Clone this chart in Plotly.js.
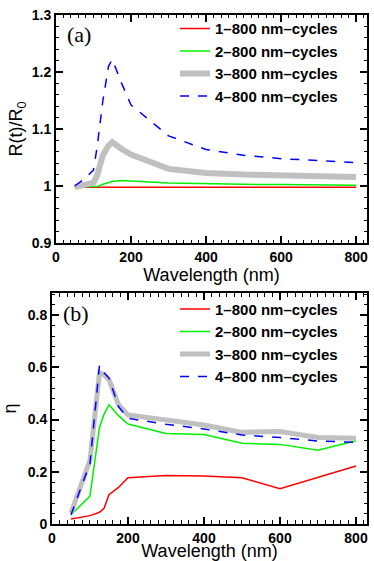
<!DOCTYPE html>
<html>
<head>
<meta charset="utf-8">
<script src="https://cdn.plot.ly/plotly-3.0.1.min.js"></script>
<style>
  html, body { margin: 0; padding: 0; background: #fff; }
  #plot { width: 374px; height: 561px; }
</style>
</head>
<body>
<div id="plot"></div>
<script>
// panel (a): R(t)/R0 vs wavelength
let wlA = [50, 75, 100, 110, 125, 140, 150, 175, 200, 300, 400, 500, 600, 700, 800];
let ratio1 = [0.998, 0.998, 0.998, 0.998, 0.998, 0.998, 0.998, 0.998, 0.998, 0.998, 0.998, 0.998, 0.998, 0.998, 0.998];
let ratio2 = [0.9985, 0.9985, 0.9985, 0.999, 1.003, 1.006, 1.008, 1.0095, 1.009, 1.0055, 1.004, 1.003, 1.0025, 1.002, 1.0015];
let ratio3 = [0.998, 1.003, 1.006, 1.019, 1.054, 1.071, 1.077, 1.065, 1.055, 1.030, 1.023, 1.020, 1.018, 1.017, 1.016];
let ratio4 = [1.000, 1.012, 1.028, 1.070, 1.150, 1.210, 1.222, 1.180, 1.142, 1.088, 1.064, 1.054, 1.048, 1.044, 1.041];

// panel (b): eta vs wavelength
let wlB = [50, 75, 100, 125, 137, 150, 175, 200, 300, 400, 500, 600, 700, 800];
let eta1 = [0.019, 0.025, 0.032, 0.045, 0.060, 0.112, 0.140, 0.177, 0.186, 0.184, 0.177, 0.135, 0.177, 0.222];
let eta2 = [0.035, 0.070, 0.107, 0.370, 0.420, 0.457, 0.415, 0.383, 0.347, 0.343, 0.309, 0.305, 0.283, 0.319];
let eta3 = [0.042, 0.140, 0.244, 0.579, 0.572, 0.553, 0.457, 0.418, 0.399, 0.379, 0.351, 0.354, 0.331, 0.328];
let eta4 = [0.035, 0.130, 0.232, 0.608, 0.579, 0.559, 0.450, 0.405, 0.382, 0.364, 0.341, 0.331, 0.318, 0.313];

let names = ['1\u2013800 nm\u2013cycles', '2\u2013800 nm\u2013cycles', '3\u2013800 nm\u2013cycles', '4\u2013800 nm\u2013cycles'];
let colors = ['#ff0000', '#00f000', '#c0c0c0', '#0000ff'];
let widths = [1.5, 1.5, 6, 1.5];
let dashes = ['solid', 'solid', 'solid', 'dash'];

let seriesA = [ratio1, ratio2, ratio3, ratio4];
let seriesB = [eta1, eta2, eta3, eta4];

let data = [];
seriesA.forEach(function (ys, i) {
  data.push({
    x: wlA, y: ys, name: names[i], type: 'scatter', mode: 'lines',
    xaxis: 'x', yaxis: 'y', legend: 'legend',
    line: {color: colors[i], width: widths[i], dash: dashes[i]}
  });
});
seriesB.forEach(function (ys, i) {
  data.push({
    x: wlB, y: ys, name: names[i], type: 'scatter', mode: 'lines',
    xaxis: 'x2', yaxis: 'y2', legend: 'legend2',
    line: {color: colors[i], width: widths[i] === 6 ? 5 : widths[i], dash: dashes[i]}
  });
});
// empty helpers so the tick-only frame axes get their own subplots
data.push({x: [], y: [], type: 'scatter', mode: 'lines', xaxis: 'x3', yaxis: 'y3', showlegend: false, hoverinfo: 'skip'});
data.push({x: [], y: [], type: 'scatter', mode: 'lines', xaxis: 'x4', yaxis: 'y4', showlegend: false, hoverinfo: 'skip'});

let sans = 'Liberation Sans, Arial, sans-serif';

// labelled axes
function axis(extra) {
  return Object.assign({
    color: '#000', showline: true, linewidth: 2, mirror: true,
    ticks: '', showgrid: false, zeroline: false,
    tickfont: {family: sans, size: 14, weight: 'bold'}
  }, extra);
}

// tick-only axes laid over the same boxes: inside ticks on all four sides
function frame(extra, minorStep) {
  return Object.assign({
    showline: true, linewidth: 2, linecolor: '#000', mirror: 'allticks',
    ticks: 'inside', ticklen: 7, tickwidth: 1.5, tickcolor: '#000',
    showgrid: false, zeroline: false, showticklabels: false,
    minor: {ticks: 'inside', ticklen: 3.5, tickwidth: 1, tickcolor: '#000', dtick: minorStep}
  }, extra);
}

function legendAt(x, y) {
  return {
    x: x, y: y, xanchor: 'left', yanchor: 'top',
    bgcolor: 'rgba(0,0,0,0)', borderwidth: 0, itemwidth: 30,
    font: {family: sans, size: 15, weight: 'bold'}
  };
}

let domXA = [0.1497, 0.9813], domYA = [0.5668, 0.9733];
let domXB = [0.139, 0.9813], domYB = [0.066, 0.4777];
let rangeX = [0, 829], rangeYA = [0.9, 1.3], rangeYB = [0, 0.885];

let layout = {
  width: 374, height: 561,
  margin: {l: 0, r: 0, t: 0, b: 0},
  font: {family: sans, color: '#000'},
  paper_bgcolor: '#fff', plot_bgcolor: 'rgba(0,0,0,0)',
  showlegend: true,
  xaxis: axis({domain: domXA, range: rangeX, dtick: 200, anchor: 'y',
    title: {text: 'Wavelength (nm)', font: {family: sans, size: 18}, standoff: 0}}),
  yaxis: axis({domain: domYA, range: rangeYA, dtick: 0.1, anchor: 'x',
    title: {text: 'R(t)/R<sub>0</sub>', font: {family: sans, size: 18}, standoff: 4}}),
  xaxis2: axis({domain: domXB, range: rangeX, dtick: 200, anchor: 'y2',
    title: {text: 'Wavelength (nm)', font: {family: sans, size: 18}, standoff: 0}}),
  yaxis2: axis({domain: domYB, range: rangeYB, dtick: 0.2, anchor: 'x2',
    title: {text: '\u03b7', font: {family: sans, size: 18}, standoff: 12}}),
  xaxis3: frame({domain: domXA, range: rangeX, dtick: 200, anchor: 'y3'}, 20),
  yaxis3: frame({domain: domYA, range: rangeYA, dtick: 0.1, anchor: 'x3'}, 0.02),
  xaxis4: frame({domain: domXB, range: rangeX, dtick: 200, anchor: 'y4'}, 20),
  yaxis4: frame({domain: domYB, range: rangeYB, dtick: 0.2, anchor: 'x4'}, 0.04),
  legend: legendAt(0.468, 0.978),
  legend2: legendAt(0.468, 0.478),
  annotations: [
    {text: '(a)', xref: 'paper', yref: 'paper', x: 0.174, y: 0.939, xanchor: 'left', yanchor: 'middle',
     showarrow: false, font: {family: 'Liberation Serif, Times New Roman, serif', size: 22}},
    {text: '(b)', xref: 'paper', yref: 'paper', x: 0.163, y: 0.442, xanchor: 'left', yanchor: 'middle',
     showarrow: false, font: {family: 'Liberation Serif, Times New Roman, serif', size: 22}}
  ]
};

Plotly.newPlot('plot', data, layout, {displayModeBar: false});
</script>
</body>
</html>
